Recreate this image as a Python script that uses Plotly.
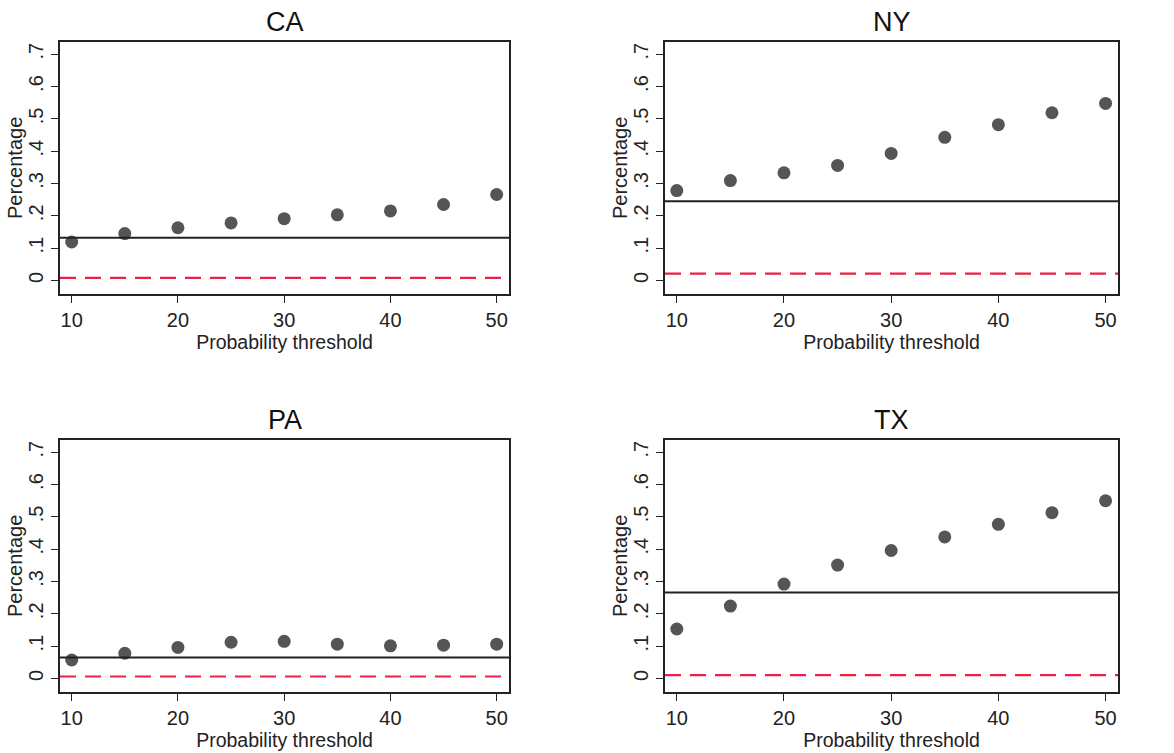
import plotly.graph_objects as go

thresholds = [10, 15, 20, 25, 30, 35, 40, 45, 50]
states = ["CA", "NY", "PA", "TX"]
ca_vals = [0.119, 0.145, 0.163, 0.178, 0.191, 0.203, 0.215, 0.235, 0.266]
ny_vals = [0.278, 0.309, 0.333, 0.356, 0.393, 0.443, 0.482, 0.519, 0.548]
pa_vals = [0.057, 0.078, 0.096, 0.112, 0.115, 0.106, 0.101, 0.103, 0.106]
tx_vals = [0.153, 0.224, 0.292, 0.351, 0.396, 0.438, 0.477, 0.513, 0.550]
black_line = [0.132, 0.245, 0.065, 0.266]
red_line = [0.008, 0.021, 0.006, 0.010]
ytick_vals = [0, 0.1, 0.2, 0.3, 0.4, 0.5, 0.6, 0.7]
ytick_text = ["0", ".1", ".2", ".3", ".4", ".5", ".6", ".7"]
xtick_vals = [10, 20, 30, 40, 50]

series = [ca_vals, ny_vals, pa_vals, tx_vals]

W, H = 1174, 753
xdoms = [[60 / W, 509 / W], [665 / W, 1118 / W]]
ydoms = [[1 - 294 / H, 1 - 42 / H], [1 - 692 / H, 1 - 440 / H]]
XR = [8.9, 51.16]

FONT = "Liberation Sans, Arial, sans-serif"
fig = go.Figure()
layout = dict(
    width=W, height=H, margin=dict(l=0, r=0, t=0, b=0),
    paper_bgcolor="white", plot_bgcolor="white", showlegend=False,
    font=dict(family=FONT, color="#222"),
)
annotations = []
for i, st in enumerate(states):
    r, c = divmod(i, 2)
    n = "" if i == 0 else str(i + 1)
    xa, ya = "x" + n, "y" + n
    fig.add_trace(go.Scatter(
        x=thresholds, y=series[i], mode="markers", xaxis=xa, yaxis=ya,
        marker=dict(size=13, color="#555555", line=dict(width=0)),
        cliponaxis=False))
    fig.add_trace(go.Scatter(
        x=XR, y=[black_line[i]] * 2, mode="lines", xaxis=xa, yaxis=ya,
        line=dict(color="#222222", width=2)))
    fig.add_trace(go.Scatter(
        x=XR, y=[red_line[i]] * 2, mode="lines", xaxis=xa, yaxis=ya,
        line=dict(color="#ec1f45", width=2.2, dash="16px,9px")))
    layout["xaxis" + n] = dict(
        domain=xdoms[c], anchor=ya, range=XR,
        tickvals=xtick_vals, ticks="outside", ticklen=7, tickwidth=1.2,
        tickcolor="#222", showline=True, linecolor="#222", linewidth=1.5,
        mirror=True, showgrid=False, zeroline=False,
        tickfont=dict(size=20, family=FONT, color="#222"),
        title=dict(text="Probability threshold", standoff=0,
                   font=dict(size=19.5, family=FONT, color="#222")),
    )
    layout["yaxis" + n] = dict(
        domain=ydoms[r], anchor=xa, range=[-0.042, 0.738],
        tickvals=ytick_vals, ticktext=ytick_text, tickangle=-90,
        ticks="outside", ticklen=7, tickwidth=1.2, tickcolor="#222",
        showline=True, linecolor="#222", linewidth=1.5, mirror=True,
        showgrid=False, zeroline=False,
        tickfont=dict(size=20, family=FONT, color="#222"),
    )
    annotations.append(dict(
        text=st, xref="paper", yref="paper",
        x=sum(xdoms[c]) / 2, y=ydoms[r][1], yanchor="bottom", xanchor="center",
        yshift=3, showarrow=False, font=dict(size=27, family=FONT, color="#111")))
    annotations.append(dict(
        text="Percentage", xref="paper", yref="paper", textangle=-90,
        x=xdoms[c][0], y=sum(ydoms[r]) / 2, xanchor="center", yanchor="middle",
        xshift=-45, showarrow=False,
        font=dict(size=20, family=FONT, color="#222")))

layout["annotations"] = annotations
fig.update_layout(**layout)
fig.write_html("out.html", post_script="document.body.style.margin='0';",
               config={"displayModeBar": False})
